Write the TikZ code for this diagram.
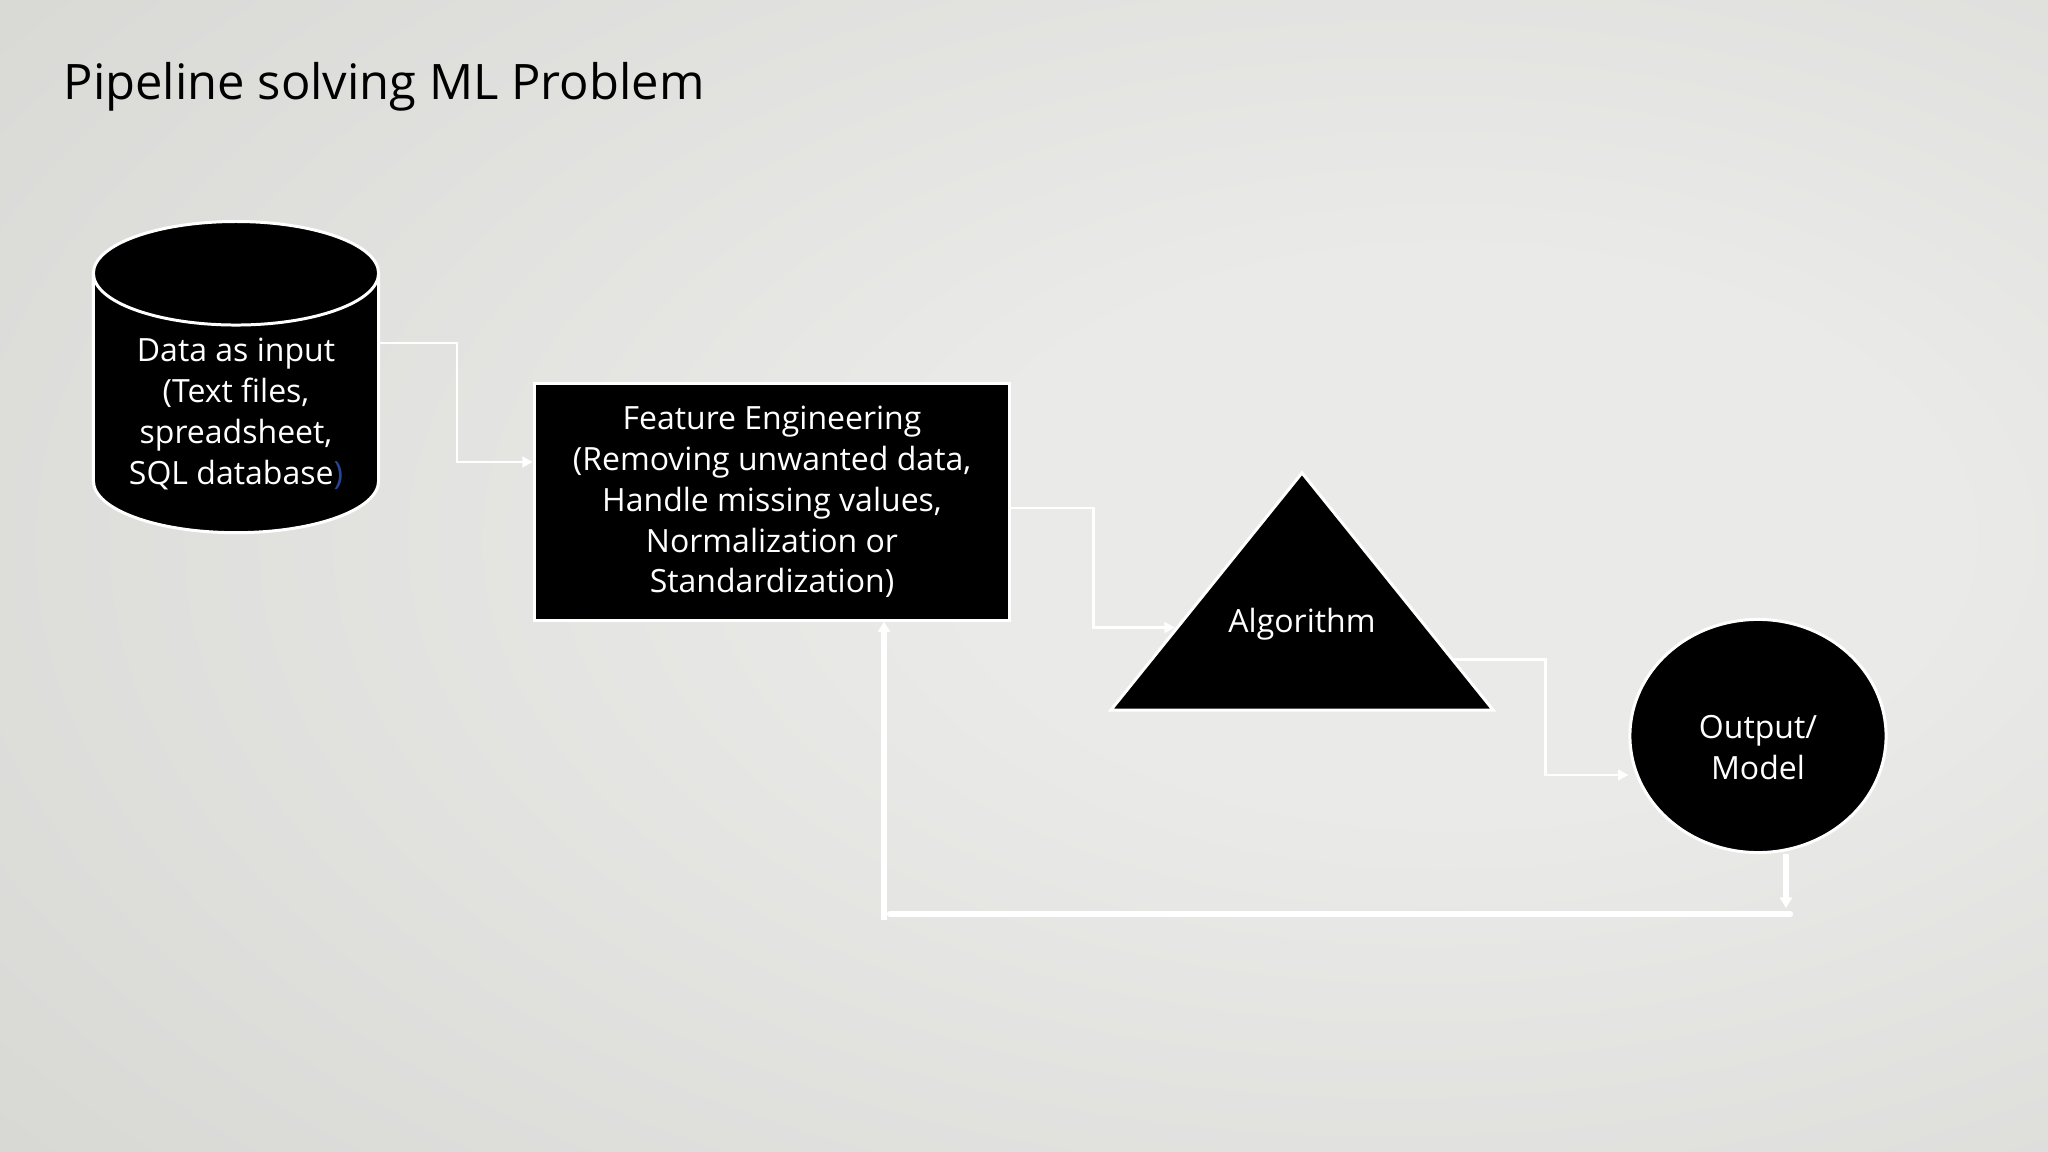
\documentclass[tikz,border=0pt]{standalone}
\usepackage{fontspec}
\setmainfont{Open Sans}
\usepackage{tikz}
\usetikzlibrary{shapes.geometric,arrows.meta,calc}

\definecolor{bgin}{RGB}{234,234,232}
\definecolor{bgout}{RGB}{197,197,193}
\definecolor{parblue}{RGB}{40,70,150}
\pgfdeclareradialshading{slide}{\pgfpoint{12bp}{2bp}}{color(0bp)=(bgin); color(12bp)=(bgin); color(72bp)=(bgout); color(100bp)=(bgout)}

\begin{document}
\begin{tikzpicture}
[
x=0.01cm, y=-0.01cm,
every node/.style={text=white, align=center, font=\fontsize{9.1}{11.6}\selectfont},
stage/.style={draw=white, fill=black, line width=0.85pt},
link/.style={draw=white, line width=0.85pt, -{Triangle[width=3pt,length=3pt]}},
feedback/.style={draw=white, line width=1.8pt}
]

% background
\shade[shading=slide] (0,0) rectangle (2048,1152);
\useasboundingbox (0,0) rectangle (2048,1152);

\node[anchor=base west, inner sep=0pt, text=black, font=\fontsize{13.9}{16}\selectfont] (title) at (63,100) {Pipeline solving ML Problem};

\node[stage, cylinder, shape border rotate=90, aspect=0.436, minimum width=2.85cm, minimum height=3.11cm] (data) at (236,414) {Data as input\\(Text files,\\spreadsheet,\\SQL database\textcolor{parblue}{)}};

\node[stage, rectangle, minimum width=4.75cm, minimum height=2.36cm] (feat) at (772,502) {Feature Engineering\\(Removing unwanted data,\\Handle missing values,\\Normalization or\\Standardization)};

\node[stage, isosceles triangle, isosceles triangle stretches, shape border rotate=90, minimum width=3.82cm, minimum height=2.37cm, inner sep=0pt, anchor=apex] (alg) at (1302,469) {\raisebox{7.4pt}[\height][\depth]{Algorithm}};

\node[stage, ellipse, minimum width=2.56cm, minimum height=2.33cm, text height=24.9pt] (model) at (1758,736) {Output/\\Model};

% connectors
\coordinate (algin) at ($(alg.apex)!0.654!(alg.left corner)$);
\coordinate (algout) at ($(alg.apex)!0.785!(alg.right corner)$);
\draw[link] (data.east |- 0,343) -- (457,343) |- (feat.west |- 0,462);
\draw[link] (feat.east |- 0,508) -- (1093,508) |- (algin);
\draw[link] (algout) -- (algout -| 1545,0) |- (model.west |- 0,775);

% back to feature engineering
\coordinate (fbR) at (1786,908);
\coordinate (fbA) at (1790,914);
\coordinate (fbB) at (890,914);
\coordinate (fbC) at (884,920);
\draw[feedback, -{Triangle[width=3.4pt,length=3pt]}] (model.south -| fbR) -- (fbR);
\draw[feedback, line cap=round] (fbA) -- (fbB);
\draw[feedback, -{Triangle[width=3.4pt,length=3pt]}] (fbC) -- (feat.south -| fbC);
\end{tikzpicture}
\end{document}
